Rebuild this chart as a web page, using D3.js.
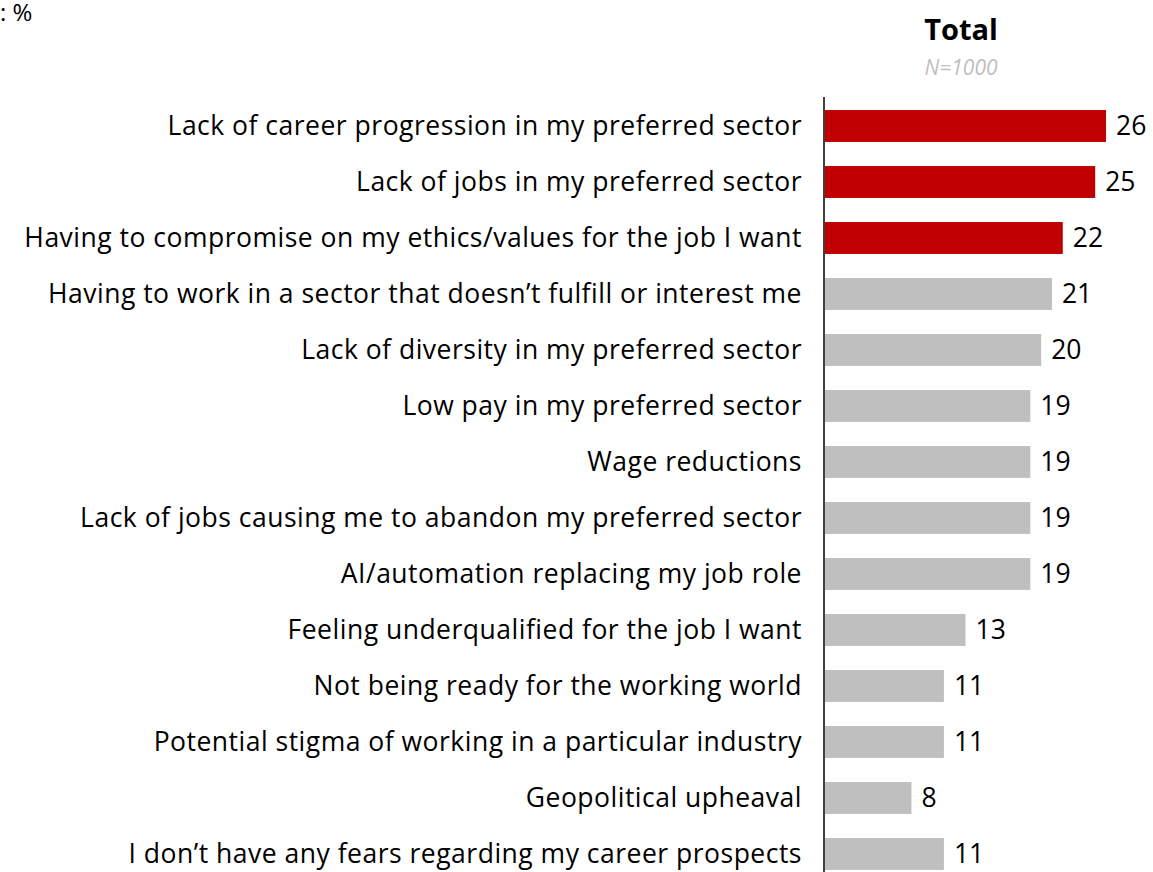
<!DOCTYPE html>
<html>
<head>
<meta charset="utf-8">
<script src="https://cdn.jsdelivr.net/npm/d3@7"></script>
<style>
  html, body { margin: 0; padding: 0; background: #fff; }
  svg { display: block; font-family: "Open Sans", Lato, sans-serif; }
</style>
</head>
<body>
<svg id="chart" width="1153" height="872"></svg>
<script>
// Career fears, share of respondents (%)
const categories = [
  "Lack of career progression in my preferred sector",
  "Lack of jobs in my preferred sector",
  "Having to compromise on my ethics/values for the job I want",
  "Having to work in a sector that doesn\u2019t fulfill or interest me",
  "Lack of diversity in my preferred sector",
  "Low pay in my preferred sector",
  "Wage reductions",
  "Lack of jobs causing me to abandon my preferred sector",
  "AI/automation replacing my job role",
  "Feeling underqualified for the job I want",
  "Not being ready for the working world",
  "Potential stigma of working in a particular industry",
  "Geopolitical upheaval",
  "I don\u2019t have any fears regarding my career prospects"
];
const values = [26, 25, 22, 21, 20, 19, 19, 19, 19, 13, 11, 11, 8, 11];
const highlighted = [true, true, true, false, false, false, false, false, false, false, false, false, false, false];

const columnTitle = "Total";
const baseLabel = "N=1000";
const unitLabel = ": %";

const svg = d3.select("#chart");

const axisX = 825;
const x = d3.scaleLinear().domain([0, 26]).range([axisX, 1106]);
const y = d3.scaleBand()
  .domain(categories)
  .range([98, 882])
  .paddingInner(0.43)
  .paddingOuter(0.215);

// bars
svg.append("g").selectAll("rect")
  .data(categories)
  .join("rect")
  .attr("x", x(0))
  .attr("y", d => y(d))
  .attr("width", (d, i) => x(values[i]) - x(0))
  .attr("height", y.bandwidth())
  .attr("fill", (d, i) => highlighted[i] ? "#C00000" : "#BFBFBF");

// category labels
svg.append("g").selectAll("text")
  .data(categories)
  .join("text")
  .attr("x", 802)
  .attr("y", d => y(d) + y.bandwidth() / 2)
  .attr("dy", "0.33em")
  .attr("text-anchor", "end")
  .attr("font-size", 26.5)
  .attr("letter-spacing", 0.5)
  .attr("fill", "#000")
  .text(d => d);

// value labels
svg.append("g").selectAll("text")
  .data(categories)
  .join("text")
  .attr("x", (d, i) => x(values[i]) + 10)
  .attr("y", d => y(d) + y.bandwidth() / 2)
  .attr("dy", "0.33em")
  .attr("font-size", 26.5)
  .attr("fill", "#000")
  .text((d, i) => values[i]);

// vertical baseline
svg.append("line")
  .attr("x1", axisX - 1).attr("x2", axisX - 1)
  .attr("y1", 97).attr("y2", 872)
  .attr("stroke", "#000").attr("stroke-width", 1.5);

// header
svg.append("text")
  .attr("x", 961).attr("y", 40)
  .attr("text-anchor", "middle")
  .attr("font-size", 29).attr("font-weight", "bold")
  .text(columnTitle);

svg.append("text")
  .attr("x", 961).attr("y", 75)
  .attr("text-anchor", "middle")
  .attr("font-size", 21).attr("font-style", "italic")
  .attr("fill", "#BFBFBF")
  .text(baseLabel);

svg.append("text")
  .attr("x", 0).attr("y", 21)
  .attr("font-size", 24)
  .text(unitLabel);
</script>
</body>
</html>
